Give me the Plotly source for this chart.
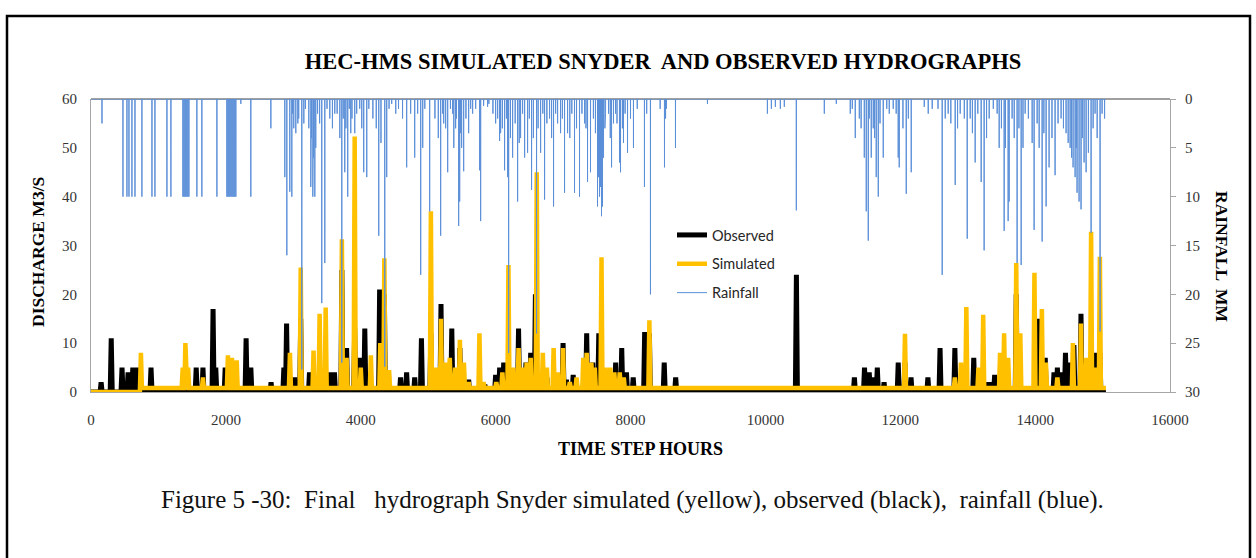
import plotly.graph_objects as go

# ---------------- data (hours, m3/s, mm) ----------------
# Observed discharge peaks
obs_hour = [150, 300, 460, 550, 620, 680, 890, 1560, 1660, 1810, 1850, 1990, 2300, 2370,
            2670, 2860, 2900, 3020, 3110, 3240, 3550, 3610, 3720, 3790, 3910, 3980, 4060,
            4280, 4350, 4590, 4680, 4800, 4900, 5040, 5190, 5270, 5350, 5470, 5600, 5840,
            6000, 6060, 6120, 6340, 6450, 6520, 6590, 6760, 7000, 7050, 7150, 7350, 7440,
            7530, 7610, 7780, 7870, 7940, 8040, 8210, 8280, 8500, 8670, 10460, 11320, 11470,
            11540, 11590, 11660, 11760, 11970, 12070, 12160, 12410, 12590, 12810, 13090,
            13180, 13280, 13350, 13400, 13720, 14045, 14150, 14280, 14330, 14380, 14450,
            14520, 14575, 14680, 14760, 14900, 14960]
obs_flow = [2, 11, 5, 4, 5, 5, 5, 5, 5, 17, 5, 5, 11, 5,
            2, 5, 14, 3, 15, 4, 4, 4, 25, 9, 13, 7, 13,
            21, 20, 3, 4, 3, 11, 12, 18, 5, 13, 9, 2.5, 1.5,
            3.5, 5, 6, 13, 6, 8, 20, 3, 10, 2.5, 3.5, 12, 6,
            12, 3, 6, 9, 4, 3, 12.3, 12, 6, 3, 24, 3, 5,
            4, 3, 5, 2, 6, 6, 3, 3, 9, 9, 7,
            2, 2, 2, 3.5, 20, 15, 7, 4, 5, 4, 8,
            6, 9.6, 16, 6, 8, 8]
obs_base = 0.0

# Simulated (Snyder) discharge peaks
sim_hour = [740, 1360, 1400, 1440, 1660, 2030, 2090, 2160, 2950, 3110, 3300, 3390, 3480,
            3720, 3790, 3910, 4000, 4150, 4290, 4350, 4420, 5040, 5120, 5190, 5260, 5320,
            5400, 5470, 5530, 5600, 5760, 5820, 6010, 6100, 6190, 6260, 6340, 6400, 6460,
            6520, 6610, 6700, 6760, 6860, 6920, 7000, 7100, 7200, 7300, 7350, 7420, 7470,
            7570, 7630, 7700, 7760, 7840, 7900, 8280, 12070, 12810, 12900, 12980, 13160,
            13230, 13480, 13540, 13600, 13720, 13780, 13990, 14100, 14160, 14330, 14560,
            14680, 14760, 14830, 14900, 14960]
sim_flow = [8, 5, 10, 5, 3, 7.5, 7, 6.5, 8, 25.5, 8.5, 16, 17.3,
            31.3, 7, 52.3, 5, 7.5, 10, 27.4, 4.5, 37, 5, 15, 6, 7,
            5, 10.7, 6, 2, 12, 2, 2, 4, 26, 5, 9, 5, 6,
            7, 45, 8, 5, 9, 4, 9, 2, 3, 7, 8, 6, 5,
            27.6, 5, 5, 4, 4, 3, 14.7, 11.9, 3, 6, 17.4, 5,
            15.8, 8, 12, 7, 26.4, 12, 24.4, 17, 6, 3, 10,
            14, 7, 32.8, 5, 27.7]
sim_base_early = 0.0     # before the first simulated response
sim_base = 0.8

# Hourly rainfall: main storm spikes
rain_hour = [163, 474, 533, 563, 607, 652, 755, 904, 948, 1126, 1185, 1363, 1378, 1393, 1407,
             1422, 1437, 1452, 1570, 1644, 1867, 2015, 2030, 2044, 2059, 2074, 2089, 2104,
             2119, 2133, 2148, 2222, 2370, 2667, 2874, 2904, 2948, 2978, 3007, 3037, 3067,
             3126, 3156, 3259, 3289, 3319, 3333, 3422, 3467, 3541, 3615, 3719, 3763, 3807,
             3852, 3911, 3985, 4015, 4044, 4089, 4267, 4356, 4385, 4459, 4519, 4681, 4800,
             4844, 4889, 4919, 5022, 5185, 5215, 5259, 5289, 5363, 5407, 5452, 5467, 5481,
             5496, 5526, 5600, 5659, 5704, 5763, 5778, 5822, 5881, 6000, 6059, 6074, 6133,
             6178, 6193, 6252, 6326, 6370, 6430, 6474, 6533, 6607, 6667, 6726, 6800, 6859,
             6919, 6963, 7022, 7067, 7170, 7244, 7319, 7363, 7407, 7511, 7526, 7541, 7556,
             7570, 7585, 7600, 7630, 7674, 7719, 7748, 7778, 7837, 7852, 7896, 7956, 8044,
             8207, 8296, 8504, 8533, 8667, 9141, 10030, 10089, 10148, 10222, 10281, 10459,
             10874, 11052, 11259, 11289, 11333, 11393, 11467, 11496, 11526, 11570, 11600,
             11644, 11674, 11748, 11837, 11896, 11970, 11985, 12089, 12163, 12356, 12415,
             12474, 12622, 12667, 12711, 12815, 12889, 12993, 13037, 13111, 13200, 13244,
             13319, 13437, 13467, 13541, 13600, 13615, 13659, 13733, 13793, 13852, 13956,
             13985, 14030, 14104, 14163, 14207, 14296, 14385, 14459, 14519, 14563, 14593,
             14622, 14652, 14681, 14726, 14756, 14830, 14889, 14963, 14993]
rain_mm = [2.5, 10, 10, 10, 10, 10, 10, 10, 10, 10, 10, 10, 10, 10, 10,
           10, 10, 10, 10, 10, 10, 10, 10, 10, 10, 10, 10, 10,
           10, 10, 10, 0.5, 10, 3, 8, 16, 9.5, 10, 3, 3.5, 2.5,
           27.7, 2.5, 9, 10, 10, 5, 20.9, 16.8, 2, 1.5, 27, 7.5, 10,
           3.5, 3.5, 1, 3, 7.5, 8, 14, 27.4, 8, 0.5, 1.5, 7, 6,
           1.5, 18, 5, 11.5, 14, 1.5, 3, 7.5, 1.5, 3, 13, 10.5, 3.5,
           5, 7.4, 3.5, 1.5, 1, 7.3, 12.5, 0.7, 0.8, 2.5, 4.3, 3.5, 7.3,
           8, 26, 6, 10.5, 4, 6, 5.5, 9.3, 24, 5.5, 10.3, 2, 11,
           2.5, 3.5, 9.6, 3.5, 9.6, 10, 2.5, 8.5, 7.5, 11, 8, 10, 9,
           12, 11, 6, 1.5, 1.5, 7, 2.5, 1.5, 6.5, 7.5, 4.5, 5.5, 5,
           9, 20, 7, 1, 5, 0.5, 1.5, 1, 0.8, 1, 0.8, 11.4,
           1.5, 0.5, 1.5, 1, 4, 2, 6, 11.5, 14.5, 6, 3,
           8, 10, 6, 1.5, 1, 6, 7, 9.7, 7.5, 0.8, 1.5,
           1, 18, 2, 1.5, 8.8, 1.5, 14.3, 2, 6.5, 8.5, 15.5,
           2, 1.5, 5, 13.5, 12.5, 10.5, 2, 16.8, 17, 1.5, 4.5,
           13.4, 2.5, 14.6, 11, 7, 7.8, 2, 3.5, 5, 7, 8,
           9.6, 10.5, 11.3, 6.5, 7.5, 13.7, 1.5, 23.8, 1.5]

# Hourly rainfall: light showers between the main spikes
shower_hour = [2990, 3080, 3180, 3230, 3270, 3300, 3360, 3390, 3500, 3580, 3650, 3690, 3740,
               3780, 3830, 3870, 3940, 4120, 4180, 4230, 4300, 4420, 4560, 4620, 4740, 4950,
               5100, 5150, 5230, 5330, 5380, 5420, 5560, 5630, 5900, 5960, 6030, 6100, 6160,
               6220, 6290, 6350, 6400, 6500, 6560, 6630, 6700, 6760, 6830, 6890, 6990, 7100,
               7130, 7200, 7280, 7340, 7450, 7480, 7620, 7700, 7800, 7880, 7920, 8000, 8100,
               8240, 8440, 8520, 11420, 11540, 11620, 11700, 11800, 11940, 12040, 12120,
               12560, 12750, 12850, 12950, 13070, 13150, 13280, 13380, 13500, 13560, 13690,
               13760, 13820, 13900, 14060, 14130, 14250, 14340, 14420, 14490, 14540, 14610,
               14700, 14790, 14860, 14920, 15030]
shower_mm = [1.5, 2, 1, 3, 4, 6, 1.5, 2.5, 1, 3, 1.5, 4, 2,
             3, 1, 2, 1.5, 1, 2, 3, 4.5, 1, 1, 2, 1.5, 1,
             2, 4, 2.5, 1, 5, 2, 2, 1, 0.5, 1.5, 2, 3, 2,
             4, 2.5, 4.5, 1.5, 2, 4, 3, 1.5, 2.5, 4, 1.5, 2, 4,
             1.5, 3, 1.5, 3, 2, 3.5, 3, 4, 2.5, 3, 1.5, 2, 1,
             1.5, 1, 2, 3, 2, 4, 2.5, 1, 1.5, 3, 2,
             1, 2.5, 3, 2, 3.5, 1.5, 4, 1, 3, 5, 4,
             3, 5, 2, 5, 3.5, 4, 2.5, 3, 4.5, 6, 5,
             4, 5.5, 3, 4, 2]

record_end = 15050


# ---------------- build the hydrograph polylines ----------------
def spikes(hours, values, base, half, end, base_before=None, switch=None):
    first = base if base_before is None else base_before
    xs, ys = [0], [first]
    for h, v in sorted(zip(hours, values)):
        b = base
        if switch is not None and h < switch:
            b = base_before
        xs += [max(h - half, 0), h, h + half]
        ys += [b, v, base]
    xs.append(end)
    ys.append(base)
    return xs, ys


obs_x, obs_y = spikes(obs_hour, obs_flow, obs_base, 15, record_end)
sim_x, sim_y = spikes(sim_hour, sim_flow, sim_base, 15, record_end,
                      base_before=sim_base_early, switch=sim_hour[0] + 1)
rain_x, rain_y = spikes(rain_hour + shower_hour, rain_mm + shower_mm, 0.0, 1, record_end)

SERIF = "Liberation Serif"
TICK_FONT = dict(family=SERIF, size=15, color="#333333")

fig = go.Figure()
fig.add_trace(go.Scatter(x=obs_x, y=obs_y, mode="lines", name="Observed",
                         line=dict(color="#000000", width=5), legendgroup="o"))
fig.add_trace(go.Scatter(x=sim_x, y=sim_y, mode="lines", name="Simulated",
                         line=dict(color="#FFC000", width=4.5), legendgroup="s"))
fig.add_trace(go.Scatter(x=rain_x, y=rain_y, mode="lines", name="Rainfall",
                         line=dict(color="#5B8FD8", width=1), yaxis="y2",
                         legendgroup="r"))

W, H = 1256, 558
L, R, T, B = 91, 1170, 99, 392


def px(xp):
    return (xp - L) / (R - L)


def py(yp):
    return (B - yp) / (B - T)


fig.update_layout(
    width=W, height=H,
    margin=dict(l=L, r=W - R, t=T, b=H - B, pad=0),
    paper_bgcolor="white", plot_bgcolor="white",
    showlegend=True,
    legend=dict(x=px(672), y=py(219), xanchor="left", yanchor="top",
                bgcolor="rgba(0,0,0,0)", traceorder="grouped", tracegroupgap=7,
                font=dict(family="Lato", size=14.5, color="#262626"),
                itemwidth=30),
    title=dict(text="<b>HEC-HMS SIMULATED SNYDER  AND OBSERVED HYDROGRAPHS</b>",
               x=663 / W, xanchor="center", y=1 - 61 / H, yanchor="middle",
               font=dict(family=SERIF, size=22.5, color="#000000")),
    xaxis=dict(range=[0, 16000], dtick=2000, tick0=0, tickformat="d",
               showgrid=False, zeroline=False,
               showline=True, linecolor="#A6A6A6", linewidth=1, ticks="",
               ticklabelstandoff=14, tickfont=TICK_FONT),
    yaxis=dict(range=[0, 60], dtick=10, showgrid=False, zeroline=False,
               showline=True, linecolor="#A6A6A6", linewidth=1, ticks="",
               ticklabelstandoff=10, tickfont=TICK_FONT),
    yaxis2=dict(range=[30, 0], dtick=5, overlaying="y", side="right", showgrid=False,
                zeroline=False, showline=True, linecolor="#A6A6A6", linewidth=1,
                ticks="outside", ticklen=5, tickcolor="#A6A6A6", ticklabelstandoff=6,
                tickfont=TICK_FONT),
)

# plot-area top edge and outer frame
fig.add_shape(type="line", xref="paper", yref="paper", x0=0, x1=1, y0=1, y1=1,
              line=dict(color="#404040", width=1), layer="below")
fig.add_shape(type="rect", xref="paper", yref="paper",
              x0=px(7), x1=px(1250), y0=py(575), y1=py(16),
              line=dict(color="#000000", width=2.5), layer="above")

# axis titles and caption
fig.add_annotation(text="<b>DISCHARGE M3/S</b>", xref="paper", yref="paper",
                   x=px(38), y=py(252), textangle=-90, showarrow=False,
                   xanchor="center", yanchor="middle",
                   font=dict(family=SERIF, size=17.5, color="#000000"))
fig.add_annotation(text="<b>RAINFALL  MM</b>", xref="paper", yref="paper",
                   x=px(1222), y=py(256), textangle=90, showarrow=False,
                   xanchor="center", yanchor="middle",
                   font=dict(family=SERIF, size=17.5, color="#000000"))
fig.add_annotation(text="<b>TIME STEP HOURS</b>", xref="paper", yref="paper",
                   x=px(640), y=py(449), showarrow=False,
                   xanchor="center", yanchor="middle",
                   font=dict(family=SERIF, size=18, color="#000000"))
caption = ("Figure 5 -30:\u00a0 Final \u00a0 hydrograph Snyder simulated (yellow), "
           "observed (black),\u00a0 rainfall (blue).")
fig.add_annotation(text=caption, xref="paper", yref="paper",
                   x=px(632), y=py(500), showarrow=False,
                   xanchor="center", yanchor="middle",
                   font=dict(family=SERIF, size=25, color="#111111"))

fig.write_html("out.html")
